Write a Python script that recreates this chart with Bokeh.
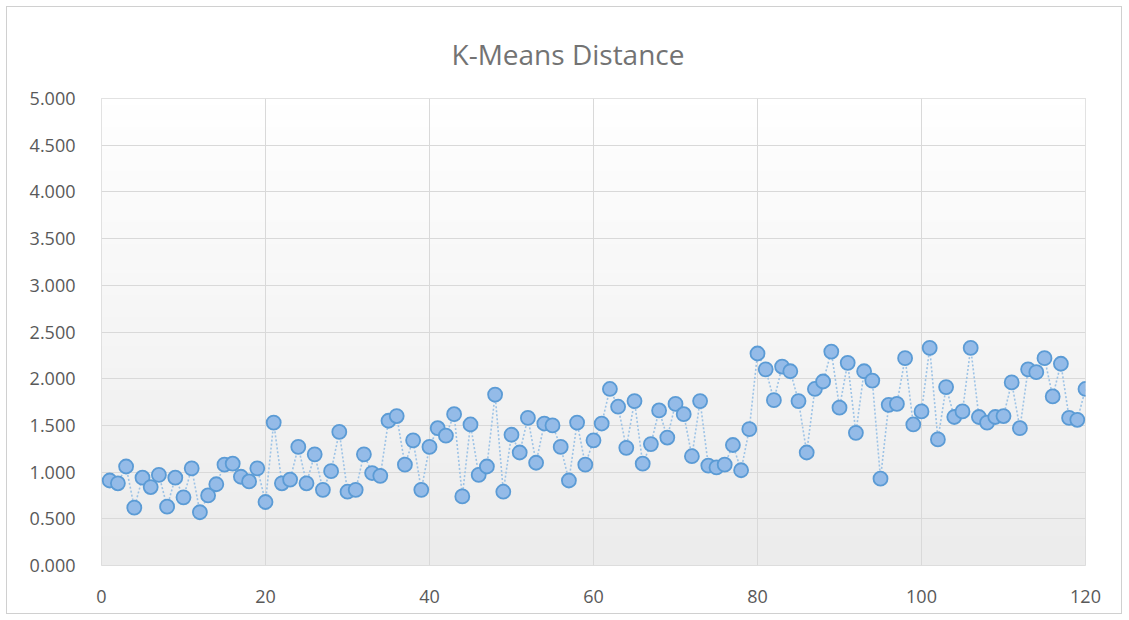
import numpy as np
from bokeh.plotting import figure
from bokeh.models import ColumnDataSource, FixedTicker, NumeralTickFormatter, Range1d
from bokeh.embed import file_html
from bokeh.resources import INLINE

title_text = "K-Means Distance"
x_ticks = [0, 20, 40, 60, 80, 100, 120]
y_ticks = [0.0, 0.5, 1.0, 1.5, 2.0, 2.5, 3.0, 3.5, 4.0, 4.5, 5.0]

sample_index = list(range(1, 121))
distance = [
    0.91, 0.88, 1.06, 0.62, 0.94, 0.84, 0.97, 0.63, 0.94, 0.73,
    1.04, 0.57, 0.75, 0.87, 1.08, 1.09, 0.95, 0.90, 1.04, 0.68,
    1.53, 0.88, 0.92, 1.27, 0.88, 1.19, 0.81, 1.01, 1.43, 0.79,
    0.81, 1.19, 0.99, 0.96, 1.55, 1.60, 1.08, 1.34, 0.81, 1.27,
    1.47, 1.39, 1.62, 0.74, 1.51, 0.97, 1.06, 1.83, 0.79, 1.40,
    1.21, 1.58, 1.10, 1.52, 1.50, 1.27, 0.91, 1.53, 1.08, 1.34,
    1.52, 1.89, 1.70, 1.26, 1.76, 1.09, 1.30, 1.66, 1.37, 1.73,
    1.62, 1.17, 1.76, 1.07, 1.05, 1.08, 1.29, 1.02, 1.46, 2.27,
    2.10, 1.77, 2.13, 2.08, 1.76, 1.21, 1.89, 1.97, 2.29, 1.69,
    2.17, 1.42, 2.08, 1.98, 0.93, 1.72, 1.73, 2.22, 1.51, 1.65,
    2.33, 1.35, 1.91, 1.59, 1.65, 2.33, 1.59, 1.53, 1.59, 1.60,
    1.96, 1.47, 2.10, 2.07, 2.22, 1.81, 2.16, 1.58, 1.56, 1.89,
]

src = ColumnDataSource(data=dict(x=sample_index, y=distance))

p = figure(width=1116, height=608, output_backend="svg", toolbar_location=None,
           x_range=Range1d(0, 120), y_range=Range1d(0, 5),
           min_border_left=94, min_border_right=38, min_border_bottom=50,
           min_border_top=91)

p.title.text = title_text
p.title.align = "left"
p.title.text_font = "Open Sans"
p.title.text_font_size = "28px"
p.title.text_font_style = "normal"
p.title.text_color = "#737373"
p.title.offset = 350
p.title.standoff = 51

p.background_fill_color = "white"
p.border_fill_color = "white"
p.outline_line_color = "#d9d9d9"
p.styles = {"border": "1px solid #d0d0d0", "margin-left": "6px", "margin-top": "6px"}

# vertical gradient background inside the plot area (white at top -> light gray at bottom)
n = 64
shade = np.linspace(236, 255, n).astype(np.uint32)
img = np.empty((n, 1), dtype=np.uint32)
view = img.view(dtype=np.uint8).reshape((n, 1, 4))
view[:, 0, 0] = shade
view[:, 0, 1] = shade
view[:, 0, 2] = shade
view[:, 0, 3] = 255
p.image_rgba(image=[img], x=0, y=0, dw=120, dh=5, level="image")

p.line("x", "y", source=src, line_color="#9dc3e6", line_width=1.6, line_dash="2 2")
p.scatter("x", "y", source=src, size=14, fill_color="#94bbe8",
          line_color="#5b9bd5", line_width=1.8)

p.xaxis.ticker = FixedTicker(ticks=x_ticks)
p.yaxis.ticker = FixedTicker(ticks=y_ticks)
p.yaxis.formatter = NumeralTickFormatter(format="0.000")

for ax in (p.xaxis[0], p.yaxis[0]):
    ax.axis_line_color = None
    ax.major_tick_line_color = None
    ax.minor_tick_line_color = None
    ax.major_label_text_font = "Open Sans"
    ax.major_label_text_font_size = "18px"
    ax.major_label_text_color = "#595959"
p.xaxis.major_label_standoff = 18
p.yaxis.major_label_standoff = 20

p.xgrid.grid_line_color = "#d9d9d9"
p.ygrid.grid_line_color = "#d9d9d9"
p.xgrid.level = "underlay"
p.ygrid.level = "underlay"

open("out.html", "w").write(file_html(p, INLINE))
